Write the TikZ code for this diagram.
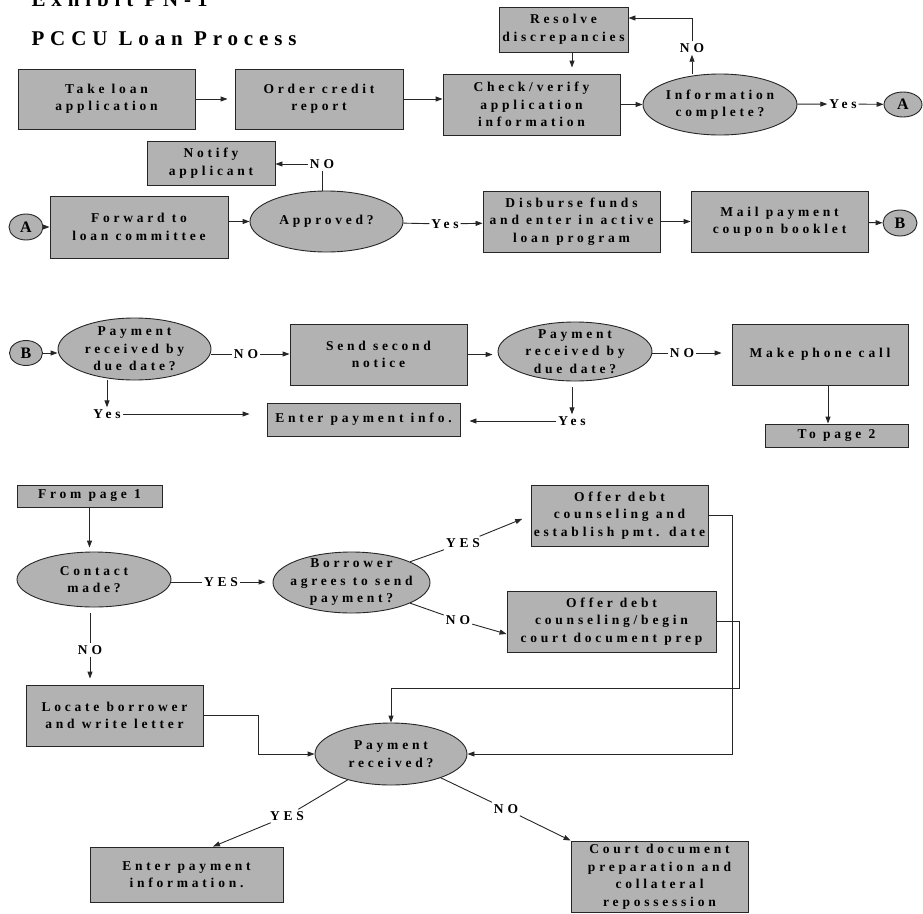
\documentclass[tikz,border=0pt]{standalone}
\usepackage{fontspec}
\setmainfont{Liberation Serif}
\newfontfamily\spaced{Liberation Serif}[LetterSpace=28]
\usetikzlibrary{shapes.geometric,arrows.meta}
\definecolor{boxgray}{RGB}{178,178,178}
\tikzset{
  box/.style={draw=black!85, fill=boxgray, line width=0.9pt, align=center, inner sep=0pt,
    font=\spaced\bfseries\fontsize{13.5}{17.5}\selectfont},
  decision/.style={box, ellipse, inner xsep=-14pt, inner ysep=-5pt},
  page/.style={draw=black!85, fill=boxgray, ellipse, line width=0.9pt, inner sep=0pt,
    font=\bfseries\fontsize{16}{16}\selectfont},
  tag/.style={font=\spaced\bfseries\fontsize{13.5}{16}\selectfont, inner sep=2pt},
  conn/.style={draw=black!85, line width=0.9pt},
}
\begin{document}
\begin{tikzpicture}[x=1pt, y=-1pt, >={Triangle[length=7pt,width=5pt]}]
\useasboundingbox (0,0) rectangle (923,913);
% heading
\node[anchor=base west, font=\spaced\bfseries\fontsize{21}{21}\selectfont] (exhibit) at (28,6) {Exhibit PN-1};
\node[anchor=base west, font=\spaced\bfseries\fontsize{21}{21}\selectfont] (title) at (28,45) {PCCU Loan Process};

% application
\node[box, minimum width=177pt, minimum height=60pt] (take) at (106.5,99) {Take loan\\application};
\node[box, minimum width=168pt, minimum height=60pt] (order) at (319,99) {Order credit\\report};
\node[box, minimum width=177pt, minimum height=61pt] (check) at (531.5,104.5) {Check/verify\\application\\information};
\node[box, minimum width=129pt, minimum height=45pt] (resolve) at (563.5,29.5) {Resolve\\discrepancies};
\node[decision, minimum width=154pt, minimum height=61pt] (complete) at (720,104.5) {Information\\complete?};
\node[tag] (noA) at (692,48) {NO};
\node[tag] (yesA) at (843,104) {Yes};
\node[page, minimum width=38pt, minimum height=25pt] (A1) at (903,104.5) {A};

\draw[conn,->,shorten >=7pt] (take) -- (order);
\draw[conn,->] (order.east) -- (order.east -| check.west);
\draw[conn,->,shorten >=6pt] (resolve.south -| 572,0) -- (check.north -| 572,0);
\draw[conn,->] (check) -- (complete);
\draw[conn,->] (noA |- complete.north) -- (noA);
\draw[conn,->] (noA) |- ([yshift=11.5pt]resolve.east);
\draw[conn,->] (complete) -- (yesA);
\draw[conn,->] (yesA) -- (A1);

% approval
\node[box, minimum width=128pt, minimum height=44pt] (notify) at (211,163) {Notify\\applicant};
\node[tag] (noB) at (322,164) {NO};
\node[box, minimum width=178pt, minimum height=62pt] (forward) at (139,227) {Forward to\\loan committee};
\node[page, minimum width=34pt, minimum height=26pt] (A2) at (26,227) {A};
\node[decision, minimum width=153pt, minimum height=61pt] (approved) at (326.5,221.5) {Approved?};
\node[tag] (yesB) at (445,224) {Yes};
\node[box, minimum width=177pt, minimum height=61pt] (disburse) at (571.5,221.5) {Disburse funds\\and enter in active\\loan program};
\node[box, minimum width=177pt, minimum height=61pt] (mail) at (779.5,221.5) {Mail payment\\coupon booklet};
\node[page, minimum width=34pt, minimum height=26pt] (B1) at (900,223) {B};

\draw[conn] (noB |- approved.north) -- (noB);
\draw[conn,->] (noB) -- (noB -| notify.east);
\draw[conn,->] (A2) -- (forward);
\draw[conn,->] (forward.east |- approved) -- (approved);
\draw[conn] (approved) -- (yesB);
\draw[conn,->] (yesB) -- (disburse);
\draw[conn,->] (disburse) -- (mail);
\draw[conn,->] (mail) -- (B1);

% payments
\node[page, minimum width=33pt, minimum height=25pt] (B2) at (26,353) {B};
\node[decision, minimum width=153pt, minimum height=62pt] (dueA) at (134.5,349) {Payment\\received by\\due date?};
\node[tag] (noC) at (246,354) {NO};
\node[box, minimum width=177pt, minimum height=61pt] (second) at (378.5,354.5) {Send second\\notice};
\node[decision, minimum width=154pt, minimum height=59pt] (dueB) at (575,351.5) {Payment\\received by\\due date?};
\node[tag] (noD) at (682,353) {NO};
\node[box, minimum width=176pt, minimum height=61pt] (phone) at (820,354.5) {Make phone call};
\node[box, minimum width=143pt, minimum height=23pt] (page2) at (836.5,435.5) {To page 2};
\node[tag] (yesC) at (107,414) {Yes};
\node[tag] (yesD) at (572,421) {Yes};
\node[box, minimum width=193pt, minimum height=33pt] (info) at (363.5,419.5) {Enter payment info.};

\draw[conn,->] (B2) -- (B2 -| dueA.west);
\draw[conn] (dueA.east |- noC) -- (noC);
\draw[conn,->] (noC) -- (noC -| second.west);
\draw[conn,->,shorten >=5pt] (second.east) -- (second.east -| dueB.west);
\draw[conn] (dueB.east |- noD) -- (noD);
\draw[conn,->,shorten >=10pt] (noD) -- (noD -| phone.west);
\draw[conn,->] ([xshift=8pt]phone.south) -- ([xshift=-8.5pt]page2.north);
\draw[conn,->] (yesC |- dueA.south) -- (yesC);
\draw[conn,->,shorten >=17pt] (yesC) -- (yesC -| info.west);
\draw[conn,->,shorten <=6pt] (yesD |- dueB.south) -- (yesD);
\draw[conn,->,shorten >=9pt] (yesD) -- (yesD -| info.east);

% collection
\node[box, minimum width=145pt, minimum height=22pt] (page1) at (89.5,496) {From page 1};
\node[decision, minimum width=154pt, minimum height=55pt] (contact) at (94,579.5) {Contact\\made?};
\node[tag] (yesE) at (221,582) {YES};
\node[decision, minimum width=157pt, minimum height=61pt] (agree) at (351.5,582.5) {Borrower\\agrees to send\\payment?};
\node[tag] (noE) at (90,650) {NO};
\node[box, minimum width=177pt, minimum height=61pt] (locate) at (114.5,715.5) {Locate borrower\\and write letter};
\node[box, minimum width=177pt, minimum height=61pt] (offerA) at (619.5,515.5) {Offer debt\\counseling and\\establish pmt. date};
\node[box, minimum width=209pt, minimum height=61pt] (offerB) at (611.5,621.5) {Offer debt\\counseling/begin\\court document prep};
\node[tag] (yesF) at (463,543) {YES};
\node[tag] (noF) at (458,620) {NO};
\node[decision, minimum width=152pt, minimum height=62pt] (received) at (391,754) {Payment\\received?};
\node[tag] (yesG) at (287,816) {YES};
\node[tag] (noG) at (506,809) {NO};
\node[box, minimum width=193pt, minimum height=55pt] (enter) at (186.5,874.5) {Enter payment\\information.};
\node[box, minimum width=177pt, minimum height=71pt] (court) at (659.5,876.5) {Court document\\preparation and\\collateral\\repossession};
\coordinate (loop) at (739,688);

\draw[conn,->,shorten >=4pt] (page1) -- (page1 |- contact.north);
\draw[conn,shorten <=6pt] (noE |- contact.south) -- (noE);
\draw[conn,->,shorten >=6pt] (noE) -- (noE |- locate.north);
\draw[conn] (contact.east |- yesE) -- (yesE);
\draw[conn,->,shorten >=7pt] (yesE) -- (yesE -| agree.west);
\draw[conn] (agree) -- (yesF);
\draw[conn,->,shorten >=9pt] (yesF) -- (offerA.west);
\draw[conn] (agree) -- (noF);
\draw[conn,->] (noF) -- ([yshift=-12.5pt]offerB.west);
\draw[conn,->] (offerA.east) -- ++(24,0) |- (received.east);
\draw[conn,->] (offerB.east) -| (loop) -| (received.north);
\draw[conn,->] (locate.east) -- ++(55,0) |- (received.west);
\draw[conn] (received) -- (yesG);
\draw[conn,->] (yesG) -- ([xshift=26.5pt]enter.north);
\draw[conn] (received) -- (noG);
\draw[conn,->] (noG) -- (court.north west);
\end{tikzpicture}
\end{document}
